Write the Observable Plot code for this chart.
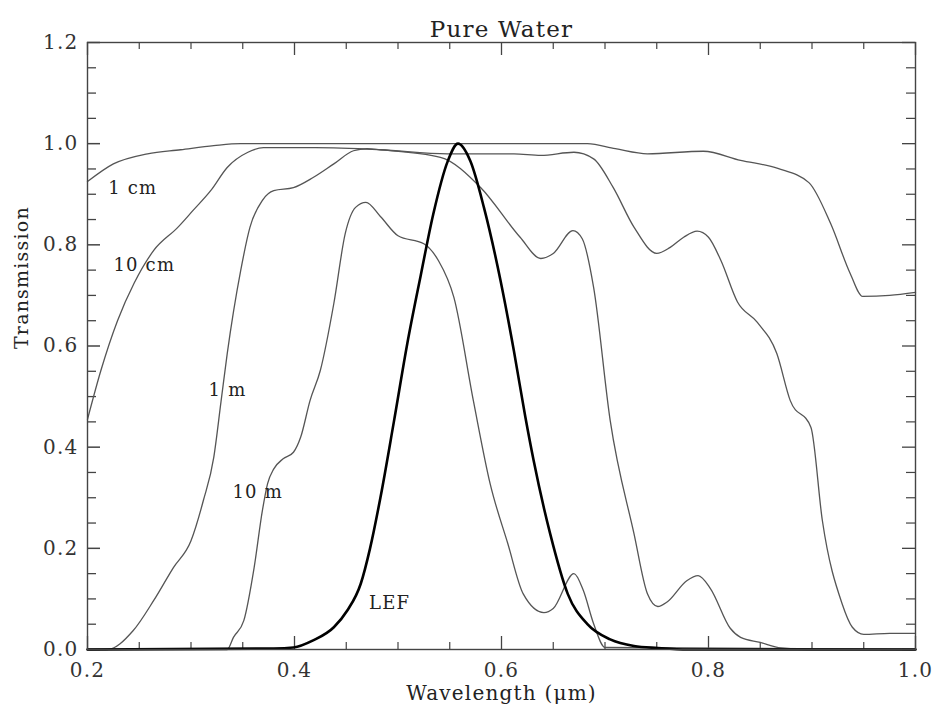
<!DOCTYPE html>
<html><head><meta charset="utf-8">
<script src="https://cdn.jsdelivr.net/npm/d3@7"></script>
<script src="https://cdn.jsdelivr.net/npm/@observablehq/plot@0.6"></script>
<style>body{margin:0;background:#fff}</style>
</head><body><div id="chart"></div>
<script>
const title = "Pure Water";
const xLabel = "Wavelength (μm)";
const yLabel = "Transmission";
const xTicksMajor = [0.2, 0.4, 0.6, 0.8, 1.0];
const xTicksMinor = [0.25, 0.3, 0.35, 0.45, 0.5, 0.55, 0.65, 0.7, 0.75, 0.85, 0.9, 0.95];
const yTicksMajor = [0.0, 0.2, 0.4, 0.6, 0.8, 1.0, 1.2];
const yTicksMinor = [0.05, 0.1, 0.15, 0.25, 0.3, 0.35, 0.45, 0.5, 0.55, 0.65, 0.7, 0.75, 0.85, 0.9, 0.95, 1.05, 1.1, 1.15];

const wl1cm = [0.2, 0.225, 0.258, 0.29, 0.322, 0.348, 0.4, 0.5, 0.6, 0.683, 0.71, 0.741, 0.795, 0.831, 0.867, 0.897, 0.918, 0.937, 0.949, 0.975, 1.0];
const tr1cm = [0.925, 0.96, 0.98, 0.988, 0.996, 1.0, 1.0, 1.0, 1.0, 1.0, 0.99, 0.98, 0.985, 0.967, 0.951, 0.923, 0.842, 0.743, 0.698, 0.70, 0.706];

const wl10cm = [0.2, 0.213, 0.229, 0.245, 0.264, 0.287, 0.302, 0.319, 0.335, 0.355, 0.37, 0.42, 0.483, 0.548, 0.612, 0.638, 0.67, 0.689, 0.708, 0.728, 0.75, 0.763, 0.776, 0.789, 0.8, 0.812, 0.828, 0.847, 0.866, 0.879, 0.899, 0.91, 0.929, 0.939, 0.95, 0.975, 1.0];
const tr10cm = [0.455, 0.552, 0.65, 0.724, 0.789, 0.834, 0.868, 0.907, 0.953, 0.983, 0.992, 0.992, 0.988, 0.98, 0.98, 0.977, 0.983, 0.97, 0.913, 0.835, 0.783, 0.795, 0.815, 0.827, 0.815, 0.769, 0.687, 0.647, 0.585, 0.492, 0.439, 0.255, 0.091, 0.044, 0.03, 0.032, 0.032];

const wl1m = [0.2, 0.219, 0.244, 0.264, 0.283, 0.3, 0.312, 0.322, 0.329, 0.335, 0.348, 0.357, 0.369, 0.38, 0.399, 0.418, 0.438, 0.457, 0.47, 0.483, 0.541, 0.58, 0.618, 0.638, 0.65, 0.669, 0.678, 0.689, 0.705, 0.728, 0.741, 0.751, 0.76, 0.779, 0.79, 0.802, 0.821, 0.831, 0.85, 0.87, 0.9, 1.0];
const tr1m = [0, 0, 0.037, 0.097, 0.162, 0.215, 0.295, 0.38, 0.49, 0.585, 0.749, 0.835, 0.888, 0.907, 0.913, 0.933, 0.96, 0.986, 0.99, 0.988, 0.973, 0.913, 0.815, 0.773, 0.783, 0.828, 0.812, 0.716, 0.453, 0.229, 0.11, 0.085, 0.094, 0.136, 0.146, 0.12, 0.042, 0.024, 0.014, 0.003, 0, 0];

const wl10m = [0.2, 0.335, 0.341, 0.351, 0.361, 0.369, 0.374, 0.38, 0.389, 0.399, 0.406, 0.415, 0.425, 0.438, 0.449, 0.459, 0.469, 0.483, 0.5, 0.525, 0.539, 0.554, 0.573, 0.589, 0.606, 0.621, 0.641, 0.65, 0.67, 0.679, 0.689, 0.7, 1.0];
const tr10m = [0, 0, 0.024, 0.057, 0.162, 0.275, 0.328, 0.357, 0.377, 0.39, 0.42, 0.492, 0.552, 0.684, 0.822, 0.874, 0.884, 0.856, 0.818, 0.802, 0.769, 0.696, 0.49, 0.328, 0.21, 0.11, 0.073, 0.081, 0.15, 0.117, 0.051, 0.004, 0];

const wlLEF = [0.2, 0.38, 0.399, 0.418, 0.438, 0.451, 0.464, 0.473, 0.483, 0.496, 0.509, 0.522, 0.534, 0.548, 0.558, 0.57, 0.583, 0.599, 0.612, 0.623, 0.631, 0.647, 0.664, 0.683, 0.705, 0.728, 0.751, 0.78, 1.0];
const trLEF = [0, 0.002, 0.004, 0.018, 0.044, 0.077, 0.13, 0.2, 0.3, 0.45, 0.605, 0.74, 0.86, 0.965, 1.0, 0.965, 0.874, 0.73, 0.59, 0.46, 0.374, 0.229, 0.11, 0.05, 0.02, 0.007, 0.003, 0, 0];

const curveLabels = ["1 cm", "10 cm", "1 m", "10 m", "LEF"];
const curveLabelX = [0.22, 0.225, 0.317, 0.34, 0.472];
const curveLabelY = [0.911, 0.759, 0.512, 0.31, 0.091];

const rows = (xs, ys) => xs.map((x, i) => ({x, y: ys[i]}));
const labelRows = curveLabels.map((t, i) => ({t, x: curveLabelX[i], y: curveLabelY[i]}));

const W = 935, H = 712, mL = 87, mR = 20, mT = 42, mB = 63;
const pW = W - mL - mR, pH = H - mT - mB;
const ink = "#444";
const font = "DejaVu Serif";

const thin = {x: "x", y: "y", stroke: "#555", strokeWidth: 1.3, curve: "monotone-x"};

const chart = Plot.plot({
  width: W, height: H,
  marginLeft: mL, marginRight: mR, marginTop: mT, marginBottom: mB,
  style: {fontFamily: font, fontSize: "20px", color: "#333", background: "#fff", letterSpacing: "1.2px"},
  x: {domain: [0.2, 1.0]},
  y: {domain: [0, 1.2]},
  marks: [
    Plot.axisX({ticks: xTicksMajor, tickSize: 0, tickPadding: 13, tickFormat: d3.format(".1f"), label: null, fill: "#333", fontSize: 20}),
    Plot.axisY({ticks: yTicksMajor, tickSize: 0, tickPadding: 9, tickFormat: d3.format(".1f"), label: null, fill: "#333", fontSize: 20}),
    Plot.tickX(xTicksMajor, {x: d => d, insetTop: pH - 13, stroke: ink, strokeWidth: 1.3}),
    Plot.tickX(xTicksMinor, {x: d => d, insetTop: pH - 7, stroke: ink, strokeWidth: 1.2}),
    Plot.tickX(xTicksMajor, {x: d => d, insetBottom: pH - 13, stroke: ink, strokeWidth: 1.3}),
    Plot.tickX(xTicksMinor, {x: d => d, insetBottom: pH - 7, stroke: ink, strokeWidth: 1.2}),
    Plot.tickY(yTicksMajor, {y: d => d, insetRight: pW - 13, stroke: ink, strokeWidth: 1.5}),
    Plot.tickY(yTicksMinor, {y: d => d, insetRight: pW - 9, stroke: ink, strokeWidth: 1.3}),
    Plot.tickY(yTicksMajor, {y: d => d, insetLeft: pW - 13, stroke: ink, strokeWidth: 1.3}),
    Plot.tickY(yTicksMinor, {y: d => d, insetLeft: pW - 9, stroke: ink, strokeWidth: 1.2}),
    Plot.line(rows(wl1cm, tr1cm), thin),
    Plot.line(rows(wl10cm, tr10cm), thin),
    Plot.line(rows(wl1m, tr1m), thin),
    Plot.line(rows(wl10m, tr10m), thin),
    Plot.line(rows(wlLEF, trLEF), {x: "x", y: "y", stroke: "#000", strokeWidth: 2.6, curve: "monotone-x"}),
    Plot.text(labelRows, {x: "x", y: "y", text: "t", textAnchor: "start", fontSize: 18, fill: "#222"}),
    Plot.frame({stroke: ink, strokeWidth: 1.4}),
    Plot.text([title], {frameAnchor: "top", dy: -22, fontSize: 23, fill: "#222"}),
    Plot.text([xLabel], {frameAnchor: "bottom", dy: 50, fontSize: 20, fill: "#222"}),
    Plot.text([yLabel], {frameAnchor: "left", dx: -66, dy: 3, rotate: -90, fontSize: 19, fill: "#222"})
  ]
});
document.getElementById("chart").appendChild(chart);
</script>
</body></html>
